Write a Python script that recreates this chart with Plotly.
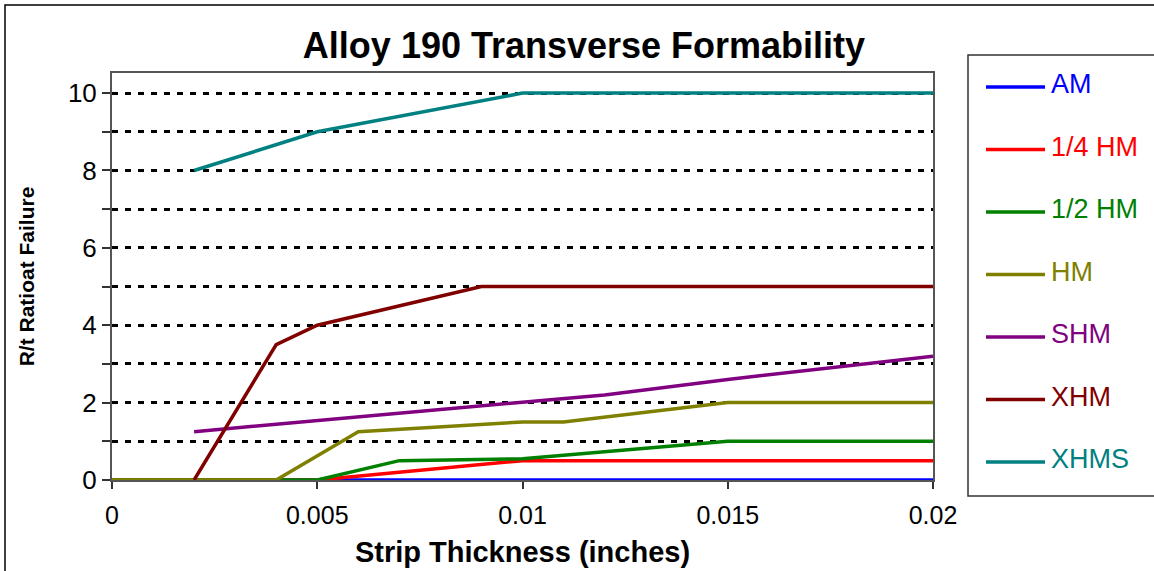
import plotly.graph_objects as go

# ---- data ----
series_names = ["AM", "1/4 HM", "1/2 HM", "HM", "SHM", "XHM", "XHMS"]
series_colors = ["#0000FF", "#FF0000", "#008000", "#808000", "#800080", "#800000", "#008080"]

am_x = [0, 0.005, 0.01, 0.015, 0.02]
am_y = [0, 0, 0, 0, 0]
q_hm_x = [0, 0.005, 0.01, 0.015, 0.02]
q_hm_y = [0, 0, 0.5, 0.5, 0.5]
h_hm_x = [0, 0.005, 0.007, 0.01, 0.015, 0.02]
h_hm_y = [0, 0, 0.5, 0.55, 1, 1]
hm_x = [0, 0.004, 0.006, 0.01, 0.011, 0.015, 0.02]
hm_y = [0, 0, 1.25, 1.5, 1.5, 2, 2]
shm_x = [0.002, 0.01, 0.012, 0.015, 0.02]
shm_y = [1.25, 2, 2.2, 2.6, 3.2]
xhm_x = [0.002, 0.004, 0.005, 0.009, 0.01, 0.015, 0.02]
xhm_y = [0, 3.5, 4, 5, 5, 5, 5]
xhms_x = [0.002, 0.005, 0.01, 0.015, 0.02]
xhms_y = [8, 9, 10, 10, 10]

xs = [am_x, q_hm_x, h_hm_x, hm_x, shm_x, xhm_x, xhms_x]
ys = [am_y, q_hm_y, h_hm_y, hm_y, shm_y, xhm_y, xhms_y]

x_ticks = [0, 0.005, 0.01, 0.015, 0.02]
x_tick_labels = ["0", "0.005", "0.01", "0.015", "0.02"]
y_ticks = [0, 2, 4, 6, 8, 10]

FONT = "Arial, Liberation Sans, sans-serif"

fig = go.Figure()
for i, (name, color) in enumerate(zip(series_names, series_colors)):
    fig.add_trace(go.Scatter(
        x=xs[i], y=ys[i], mode="lines", name=name,
        line=dict(color=color, width=3.5),
        showlegend=False,
    ))

W, H = 1154, 571
L, R, T, B = 112, 1154 - 933, 73, 571 - 480
pw, ph = W - L - R, H - T - B

def px_x(p):
    return (p - L) / pw

def px_y(p):
    return (H - B - p) / ph

# manual legend (box, sample lines, coloured labels)
shapes = [
    dict(type="rect", xref="paper", yref="paper",
         x0=px_x(5), x1=px_x(1175), y0=px_y(590), y1=px_y(5),
         line=dict(color="black", width=1.5), layer="below"),
    dict(type="rect", xref="paper", yref="paper",
         x0=px_x(968), x1=px_x(1175), y0=px_y(496), y1=px_y(55),
         line=dict(color="#333", width=1.5), fillcolor="white", layer="below"),
]
annotations = []
leg_y0, leg_dy = 87, 62.5
for i, (name, color) in enumerate(zip(series_names, series_colors)):
    yy = leg_y0 + i * leg_dy
    shapes.append(dict(type="line", xref="paper", yref="paper",
                       x0=px_x(986), x1=px_x(1045), y0=px_y(yy), y1=px_y(yy),
                       line=dict(color=color, width=3.5)))
    annotations.append(dict(xref="paper", yref="paper", x=px_x(1049), y=px_y(yy - 3),
                            xanchor="left", yanchor="middle", showarrow=False,
                            text=name, font=dict(size=27, family=FONT, color=color)))

fig.update_layout(
    width=W, height=H,
    margin=dict(l=L, r=R, t=T, b=B, autoexpand=False),
    paper_bgcolor="white", plot_bgcolor="white",
    font=dict(family=FONT, size=24, color="black"),
    title=dict(text="<b>Alloy 190 Transverse Formability</b>",
               x=584 / W, xanchor="center", y=1 - 45 / H, yanchor="middle",
               font=dict(size=36, family=FONT, color="black")),
    showlegend=False,
    shapes=shapes,
    annotations=annotations,
)

fig.update_xaxes(
    range=[0, 0.02], tickvals=x_ticks, ticktext=x_tick_labels,
    ticks="outside", ticklen=7, tickcolor="#333", tickwidth=1.5,
    showline=True, linecolor="#555", linewidth=2, mirror=True,
    showgrid=False, zeroline=False, automargin=False,
    ticklabelstandoff=5,
    tickfont=dict(size=25, family=FONT),
    title=dict(text="<b>Strip Thickness (inches)</b>", font=dict(size=29, family=FONT), standoff=14),
)
fig.update_yaxes(
    range=[0, 10.52], tickvals=y_ticks,
    ticks="outside", ticklen=8, tickcolor="#333", tickwidth=1.5,
    showline=True, linecolor="#555", linewidth=2, mirror=True,
    showgrid=True, gridcolor="black", gridwidth=2.5, griddash="6px,7px",
    zeroline=False, automargin=False,
    minor=dict(dtick=1, tick0=0, ticks="outside", ticklen=8, tickcolor="#333",
               showgrid=True, gridcolor="black", gridwidth=2.5, griddash="6px,7px"),
    tickfont=dict(size=26, family=FONT),
    title=dict(text="<b>R/t Ratioat Failure</b>", font=dict(size=21, family=FONT), standoff=28),
)

fig.write_html("out.html", config={"displayModeBar": False},
               post_script="document.body.style.margin='0';document.body.style.overflow='hidden';")
